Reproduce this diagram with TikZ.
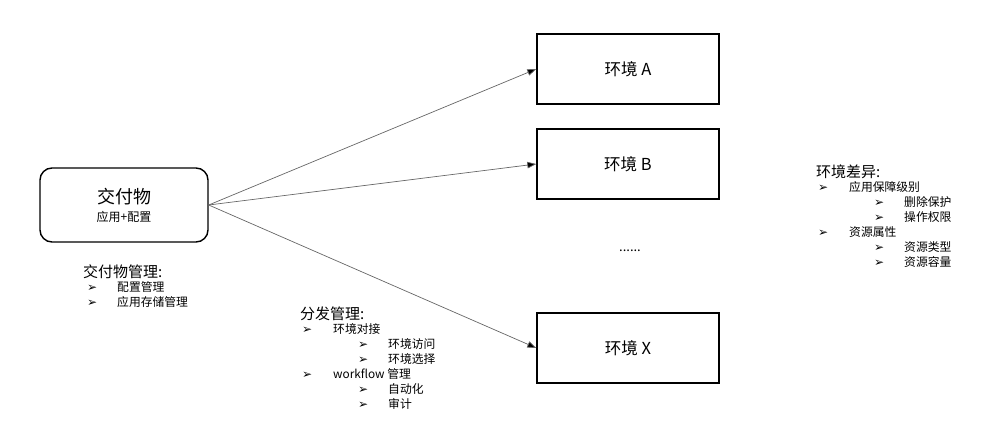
\documentclass[tikz,border=0pt]{standalone}
\usepackage{fontspec}
\setmainfont{Noto Sans CJK SC}
\newfontfamily\bulfont{DejaVu Sans}
\usetikzlibrary{arrows.meta,positioning}
\tikzset{
	envbox/.style={draw, rectangle, line width=1.4pt, minimum width=182pt, minimum height=70pt, font=\fontsize{16.5}{19}\selectfont},
	link/.style={draw=black!60, line width=0.7pt, -{Triangle[length=9pt,width=6.5pt,fill=black]}},
	listhead/.style={anchor=west, inner sep=0pt, font=\fontsize{15}{17}\selectfont},
	listbody/.style={anchor=north west, inner sep=0pt, align=left, font=\fontsize{11.8}{15}\selectfont},
}
\newcommand{\bul}{{\bulfont\fontsize{12}{12}\selectfont ➢}}
\newcommand{\lvA}[1]{\hspace*{2pt}\makebox[31pt][l]{\bul}#1}
\newcommand{\lvB}[1]{\hspace*{58pt}\makebox[30pt][l]{\bul}#1}

\begin{document}
\begin{tikzpicture}[x=1pt, y=-1pt]
			\useasboundingbox (0, 0) rectangle (999, 438);
			\node[draw, rectangle, rounded corners=12pt, line width=1.4pt, minimum width=168pt, minimum height=74pt, align=center, font=\fontsize{12}{14}\selectfont] (dlv)at(124, 205) {{\fontsize{18}{22}\selectfont 交付物}\\[4pt]应用+配置};
			\node[envbox] (envA)at(628, 69) {环境 A};
			\node[envbox] (envB)at(628, 164) {环境 B};
			\node[envbox] (envX)at(628, 348) {环境 X};
			\node[font=\fontsize{13}{15}\selectfont] (more)at(630, 251) {......};
			\draw[link] (dlv.east) -- (envA.west);
			\draw[link] (dlv.east) -- (envB.west);
			\draw[link] (dlv.east) -- (envX.west);
			\node[listhead] (dlvh)at(83, 272) {交付物管理:};
			\node[listbody] (dlvl)at(83, 281) {\hspace*{4pt}\makebox[30pt][l]{\bul}配置管理\\ \hspace*{4pt}\makebox[30pt][l]{\bul}应用存储管理};
			\node[listhead] (disth)at(300, 314) {分发管理:};
			\node[listbody] (distl)at(300, 323) {\lvA{环境对接}\\ \lvB{环境访问}\\ \lvB{环境选择}\\ \lvA{workflow 管理}\\ \lvB{自动化}\\ \lvB{审计}};
			\node[listhead] (diffh)at(816, 172) {环境差异:};
			\node[listbody] (diffl)at(816, 181) {\lvA{应用保障级别}\\ \lvB{删除保护}\\ \lvB{操作权限}\\ \lvA{资源属性}\\ \lvB{资源类型}\\ \lvB{资源容量}};
		\end{tikzpicture}
\end{document}
